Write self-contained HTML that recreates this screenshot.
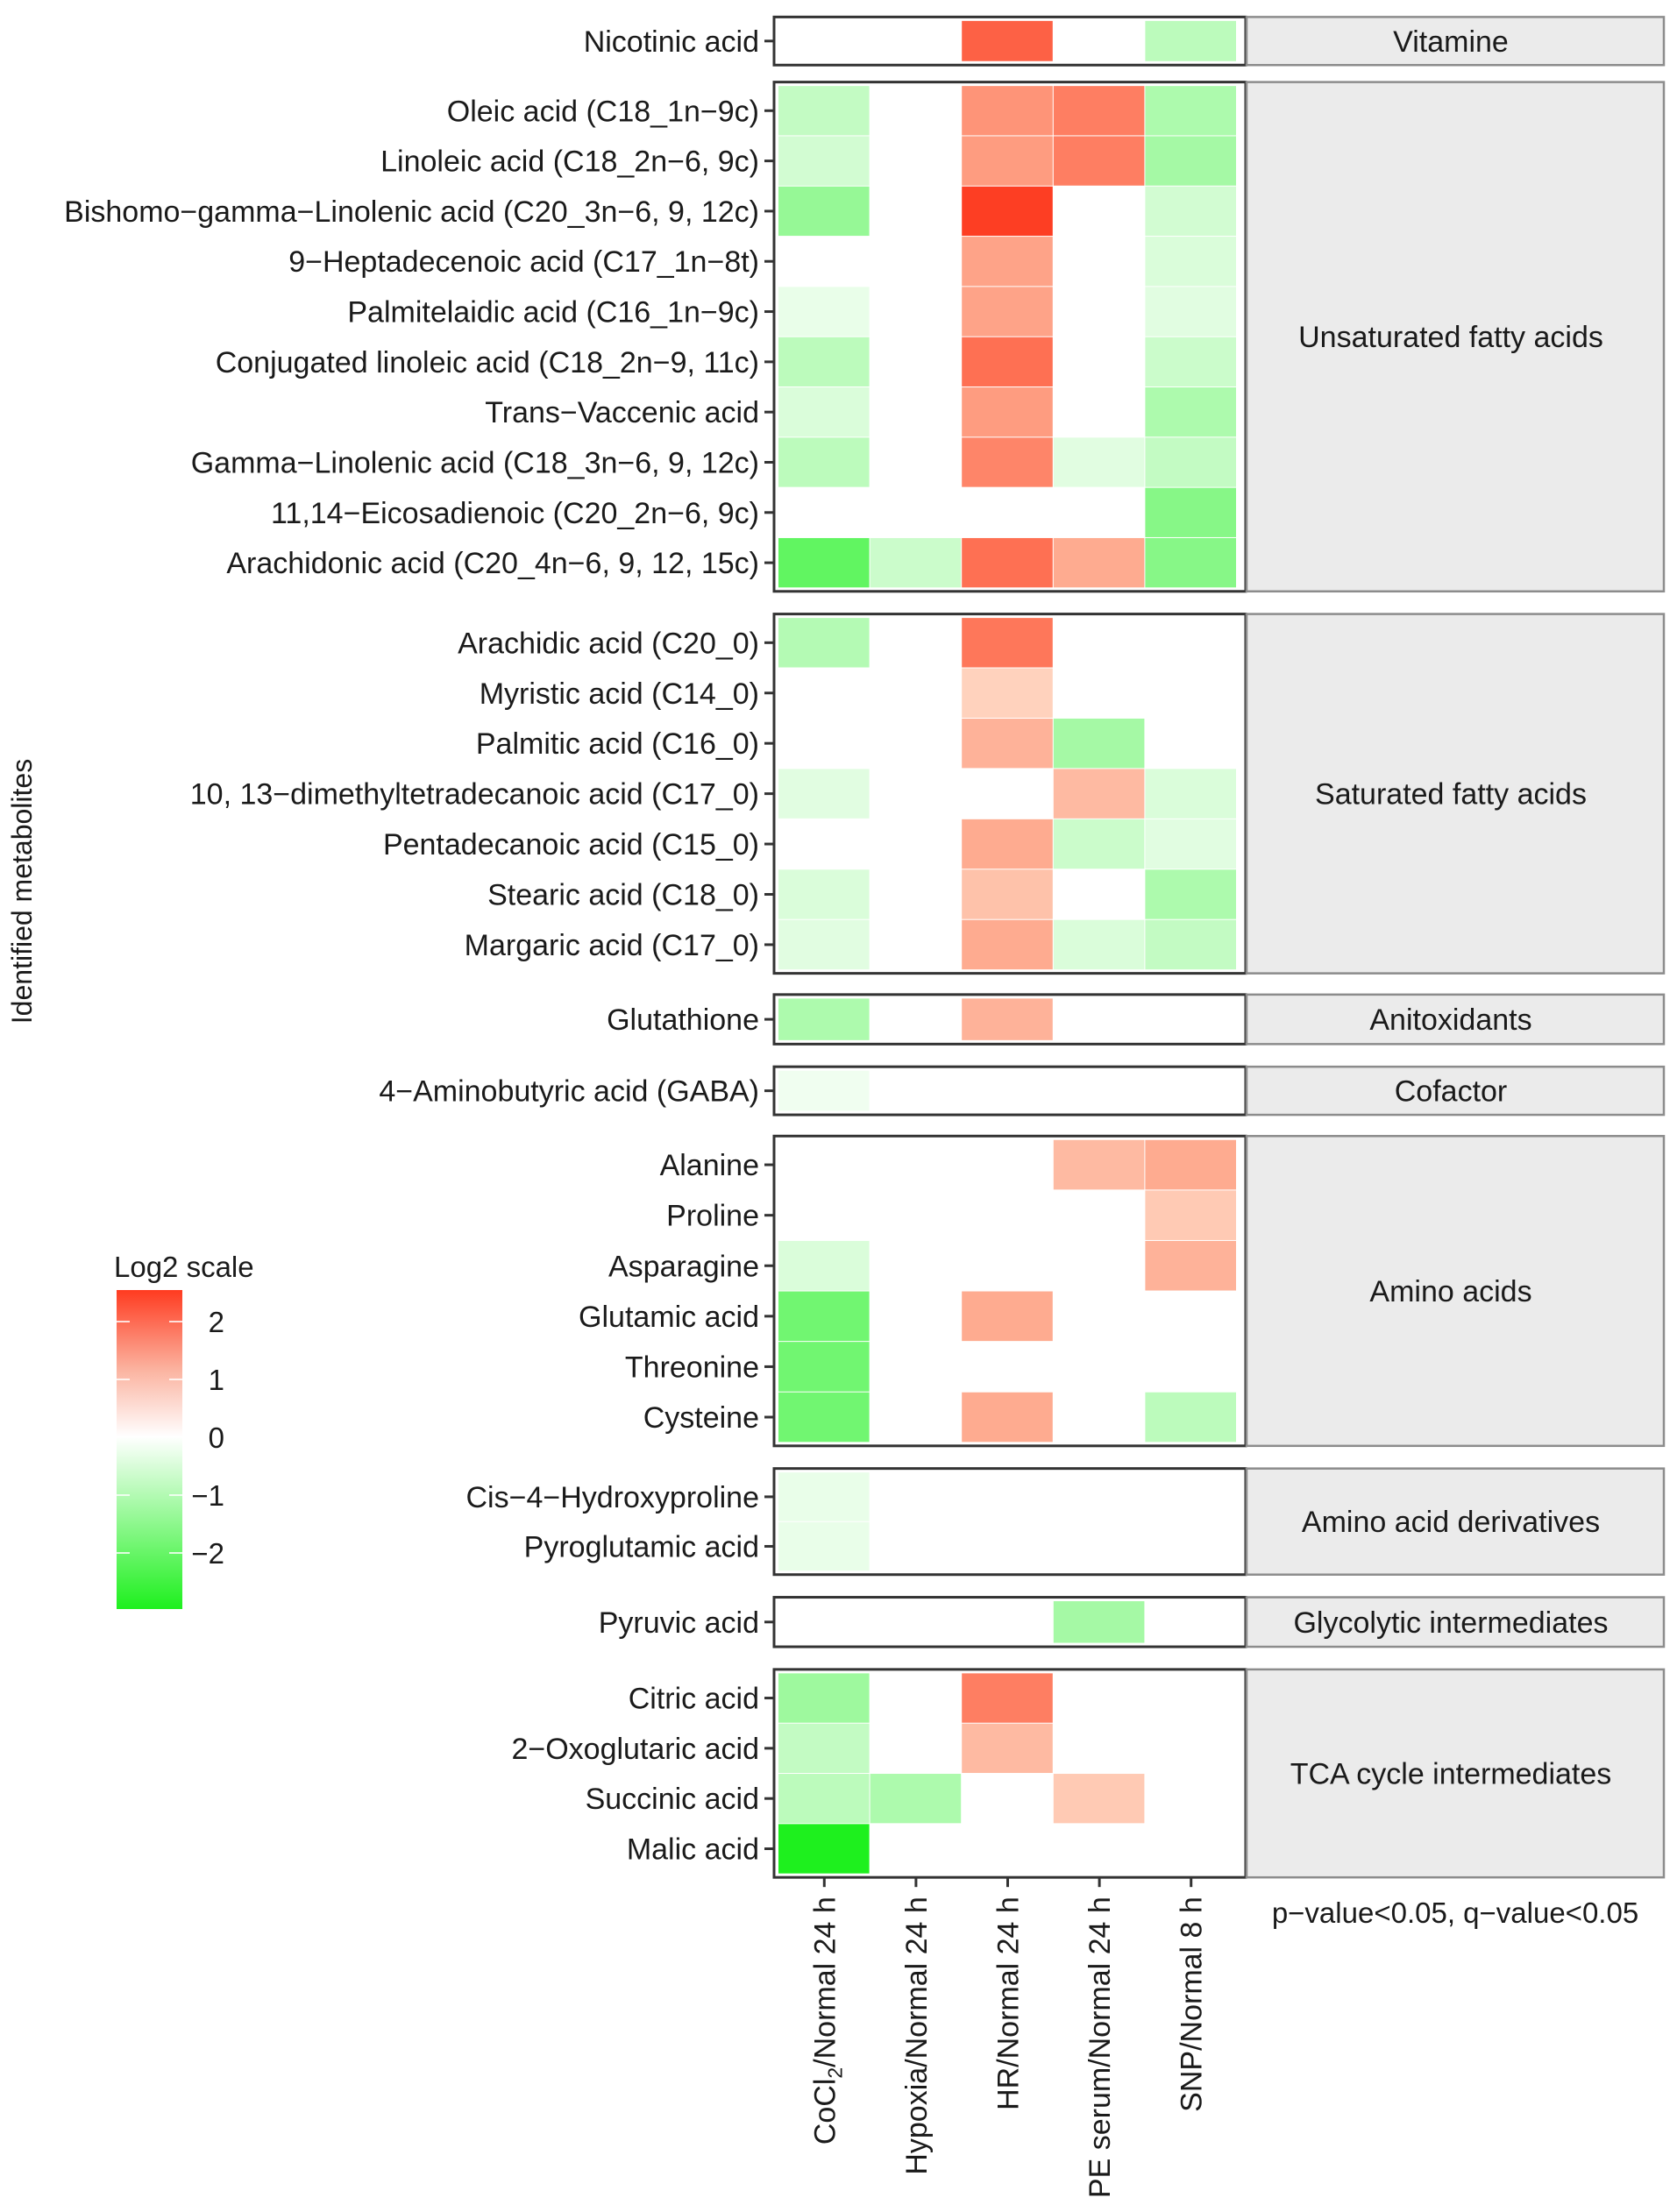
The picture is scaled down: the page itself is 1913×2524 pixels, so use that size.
<!DOCTYPE html>
<html><head><meta charset="utf-8">
<style>
html,body{margin:0;padding:0;background:#fff;}
svg{display:block;font-family:"Liberation Sans",Arial,sans-serif;}
</style></head>
<body>
<svg id="chart" width="1913" height="2524" viewBox="0 0 1913 2524" xmlns="http://www.w3.org/2000/svg">
<defs>
<linearGradient id="lg" x1="0" y1="1" x2="0" y2="0">
<stop offset="0" stop-color="#1ef01e"/>
<stop offset="0.54" stop-color="#ffffff"/>
<stop offset="0.75" stop-color="#fbb3a0"/>
<stop offset="1" stop-color="#ff3b20"/>
</linearGradient>
</defs>
<g id="panels"></g>
<text x="36" y="1017" font-size="32" fill="#1a1a1a" text-anchor="middle" transform="rotate(-90 36 1017)">Identified metabolites</text>
<g id="legend">
<text x="130" y="1457" font-size="33" fill="#1a1a1a">Log2 scale</text>
<rect x="133" y="1472" width="75" height="364" fill="url(#lg)"/>
</g>
<text x="1660" y="2194" font-size="33" fill="#1a1a1a" text-anchor="middle">p−value&lt;0.05, q−value&lt;0.05</text>
</svg>
<script>
const columns = ["CoCl2/Normal 24 h","Hypoxia/Normal 24 h","HR/Normal 24 h","PE serum/Normal 24 h","SNP/Normal 8 h"];
const groups = ["Vitamine","Unsaturated fatty acids","Saturated fatty acids","Anitoxidants","Cofactor","Amino acids","Amino acid derivatives","Glycolytic intermediates","TCA cycle intermediates"];
const groupRows = [
 ["Nicotinic acid"],
 ["Oleic acid (C18_1n−9c)","Linoleic acid (C18_2n−6, 9c)","Bishomo−gamma−Linolenic acid (C20_3n−6, 9, 12c)","9−Heptadecenoic acid (C17_1n−8t)","Palmitelaidic acid (C16_1n−9c)","Conjugated linoleic acid (C18_2n−9, 11c)","Trans−Vaccenic acid","Gamma−Linolenic acid (C18_3n−6, 9, 12c)","11,14−Eicosadienoic (C20_2n−6, 9c)","Arachidonic acid (C20_4n−6, 9, 12, 15c)"],
 ["Arachidic acid (C20_0)","Myristic acid (C14_0)","Palmitic acid (C16_0)","10, 13−dimethyltetradecanoic acid (C17_0)","Pentadecanoic acid (C15_0)","Stearic acid (C18_0)","Margaric acid (C17_0)"],
 ["Glutathione"],
 ["4−Aminobutyric acid (GABA)"],
 ["Alanine","Proline","Asparagine","Glutamic acid","Threonine","Cysteine"],
 ["Cis−4−Hydroxyproline","Pyroglutamic acid"],
 ["Pyruvic acid"],
 ["Citric acid","2−Oxoglutaric acid","Succinic acid","Malic acid"]
];
const values = [
 [0,0,2.0,0,-0.9],
 [-0.8,0,1.3,1.6,-1.1],
 [-0.6,0,1.2,1.6,-1.2],
 [-1.4,0,2.5,0,-0.6],
 [0,0,1.1,0,-0.5],
 [-0.3,0,1.1,0,-0.4],
 [-0.9,0,1.8,0,-0.7],
 [-0.5,0,1.2,0,-1.1],
 [-0.9,0,1.5,-0.4,-0.8],
 [0,0,0,0,-1.6],
 [-2.1,-0.7,1.8,1.0,-1.6],
 [-1.0,0,1.7,0,0],
 [0,0,0.5,0,0],
 [0,0,0.9,-1.2,0],
 [-0.4,0,0,0.8,-0.5],
 [0,0,1.0,-0.7,-0.4],
 [-0.5,0,0.7,0,-1.1],
 [-0.4,0,1.0,-0.5,-0.8],
 [-1.1,0,0.9,0,0],
 [-0.2,0,0,0,0],
 [0,0,0,0.8,1.0],
 [0,0,0,0,0.6],
 [-0.5,0,0,0,0.9],
 [-1.9,0,1.0,0,0],
 [-1.9,0,0,0,0],
 [-1.9,0,1.0,0,-0.9],
 [-0.3,0,0,0,0],
 [-0.3,0,0,0,0],
 [0,0,0,-1.2,0],
 [-1.3,0,1.6,0,0],
 [-0.8,0,0.8,0,0],
 [-0.9,-1.1,0,0.6,0],
 [-3.0,0,0,0,0]
];
const legendTicks = [2,1,0,-1,-2];

const NS="http://www.w3.org/2000/svg";
const svg=document.getElementById('chart');
const pg=document.getElementById('panels');
function mk(tag,attrs,parent){const e=document.createElementNS(NS,tag);for(const k in attrs)e.setAttribute(k,attrs[k]);(parent||svg).appendChild(e);return e;}
const PX0=883, PX1=1421, SX1=1898, CELL_X0=888, CELL_W=104.6;
const S=1.6143;
// panel frame layout (display units), layout only
const panelTop=[12,58,434,703,754,803,1038,1129,1180];
const panelBot=[46,418,688,738,788,1022,1113,1164,1327];
function xPos(i){return CELL_X0+i*CELL_W;}
function legendY(v){return 1640-v*66;}
function color(v){
 if(!v) return null;
 let r,g,b;
 if(v>0){const t=Math.min(v/2.55,1);r=255-2*t;g=255-(255-59)*Math.pow(t,0.9);b=255-(255-32)*Math.pow(t,0.75);}
 else{const t=Math.min(-v/3,1);r=255-(255-30)*t;g=255-(255-240)*t;b=255-(255-30)*t;}
 return `rgb(${Math.round(r)},${Math.round(g)},${Math.round(b)})`;
}
let ri=0, bottom=0;
groups.forEach((gname,gi)=>{
 const rows=groupRows[gi];
 const y=panelTop[gi]*S, y2=panelBot[gi]*S, h=y2-y;
 const rh=(h-8)/rows.length;
 const g=mk('g',{},pg);
 
 
 mk('rect',{x:PX0,y:y,width:PX1-PX0,height:h,fill:'#fff'},g);
 rows.forEach((rname,k)=>{
  const cy=y+4+k*rh;
  values[ri].forEach((v,c)=>{
   const col=color(v);
   if(col){
    const r=mk('rect',{x:xPos(c),y:cy+0.5,width:CELL_W-1,height:rh-1,fill:col},g);
    
    
   }
  });
  const ty=cy+rh/2;
  const t=mk('text',{x:866,y:ty+12,'font-size':34,fill:'#1a1a1a','text-anchor':'end'},g);
  t.textContent=rname;
  
  
  mk('line',{x1:872,x2:883,y1:ty,y2:ty,stroke:'#333','stroke-width':3},g);
  ri++;
 });
 mk('rect',{x:PX0,y:y,width:PX1-PX0,height:h,fill:'none',stroke:'#333','stroke-width':3},g);
 const s=mk('rect',{x:PX1+1,y:y,width:SX1-PX1-1,height:h,fill:'#ebebeb',stroke:'#8c8c8c','stroke-width':2.5},g);
 
 
 const st=mk('text',{x:1655,y:y+h/2+12,'font-size':34,fill:'#1a1a1a','text-anchor':'middle'},g);
 st.textContent=gname;
 
 
 bottom=y2;
});
columns.forEach((cname,c)=>{
 const cx=xPos(c)+CELL_W/2;
 mk('line',{x1:cx,x2:cx,y1:bottom,y2:bottom+11,stroke:'#333','stroke-width':3});
 const t=mk('text',{x:0,y:0,'font-size':34,fill:'#1a1a1a','text-anchor':'end',transform:`translate(${cx+12},${bottom+22}) rotate(-90)`});
 
 
 if(cname.startsWith('CoCl2')){
  t.appendChild(document.createTextNode('CoCl'));
  const sub=mk('tspan',{'font-size':23,dy:8},t);sub.textContent='2';
  const rest=mk('tspan',{dy:-8},t);rest.textContent=cname.slice(5);
 } else t.textContent=cname;
});
const lg=document.getElementById('legend');
legendTicks.forEach(v=>{
 const ly=legendY(v);
 mk('line',{x1:133,x2:148,y1:ly,y2:ly,stroke:'#fff','stroke-width':2,opacity:0.8},lg);
 mk('line',{x1:193,x2:208,y1:ly,y2:ly,stroke:'#fff','stroke-width':2,opacity:0.8},lg);
 const t=mk('text',{x:256,y:ly+12,'font-size':33,fill:'#1a1a1a','text-anchor':'end'},lg);
 t.textContent=v<0?'−'+(-v):String(v);
 
 
});
</script>
</body></html>
